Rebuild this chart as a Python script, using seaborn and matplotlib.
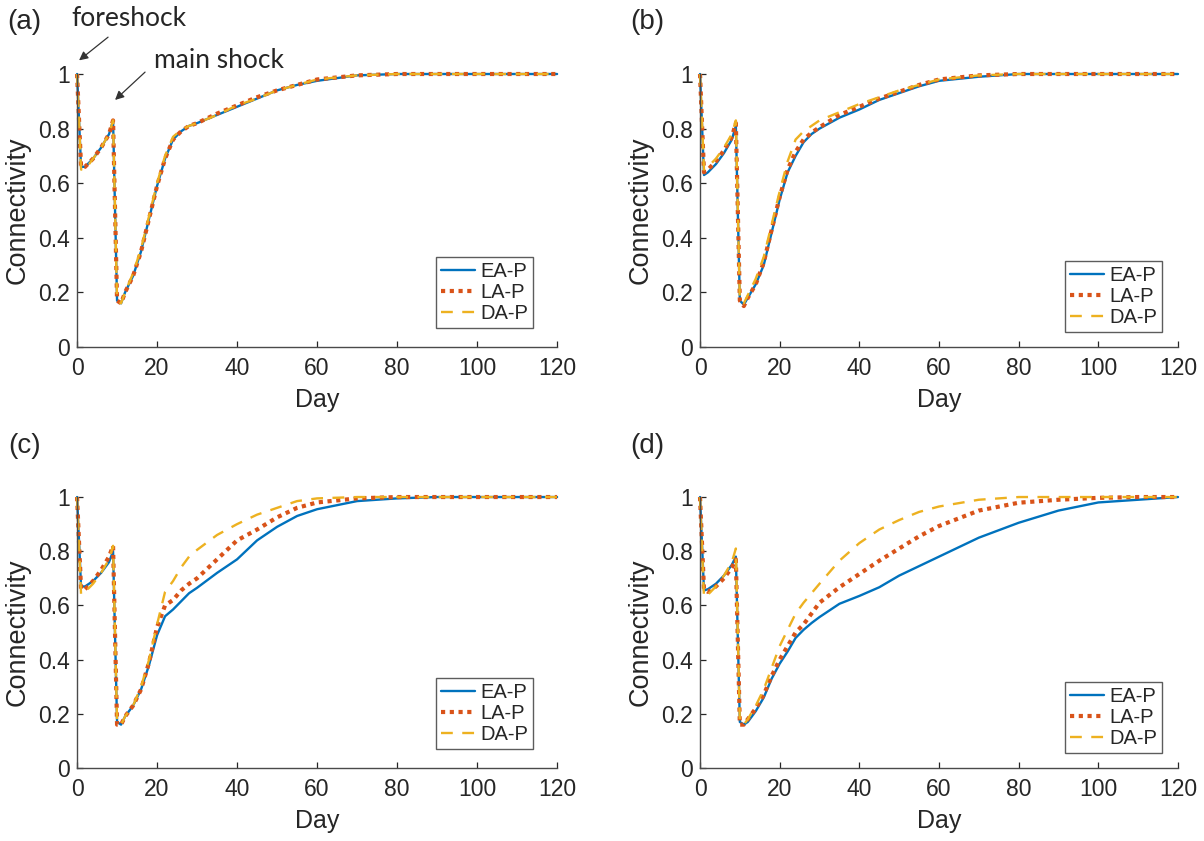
import matplotlib
matplotlib.use("Agg")
import matplotlib.pyplot as plt
import seaborn as sns

# sample days (shared by all panels)
days = [0, 1, 2, 4, 6, 8, 9, 10, 11, 12, 14, 16, 18, 20, 22, 24, 26, 28, 30,
        35, 40, 45, 50, 55, 60, 70, 80, 90, 100, 110, 120]

# (a)
a_ea = [1.00, 0.66, 0.66, 0.69, 0.73, 0.78, 0.83, 0.17, 0.16, 0.20, 0.26, 0.35, 0.47, 0.59, 0.69, 0.76,
        0.79, 0.81, 0.82, 0.85, 0.88, 0.91, 0.94, 0.96, 0.975, 0.995, 1.0, 1.0, 1.0, 1.0, 1.0]
a_la = [1.00, 0.66, 0.66, 0.69, 0.73, 0.78, 0.83, 0.17, 0.16, 0.20, 0.26, 0.35, 0.47, 0.59, 0.69, 0.76,
        0.79, 0.81, 0.82, 0.855, 0.885, 0.915, 0.94, 0.96, 0.98, 0.995, 1.0, 1.0, 1.0, 1.0, 1.0]
a_da = [1.00, 0.65, 0.65, 0.69, 0.73, 0.78, 0.83, 0.17, 0.16, 0.20, 0.27, 0.36, 0.48, 0.60, 0.70, 0.77,
        0.795, 0.81, 0.82, 0.85, 0.885, 0.91, 0.94, 0.96, 0.98, 0.995, 1.0, 1.0, 1.0, 1.0, 1.0]

# (b)
b_ea = [1.00, 0.63, 0.64, 0.67, 0.71, 0.76, 0.81, 0.17, 0.155, 0.18, 0.23, 0.30, 0.42, 0.54, 0.64, 0.70,
        0.75, 0.78, 0.80, 0.84, 0.87, 0.905, 0.93, 0.955, 0.975, 0.99, 1.0, 1.0, 1.0, 1.0, 1.0]
b_la = [1.00, 0.64, 0.65, 0.68, 0.72, 0.77, 0.82, 0.17, 0.15, 0.18, 0.23, 0.31, 0.43, 0.55, 0.65, 0.715,
        0.76, 0.785, 0.805, 0.85, 0.88, 0.91, 0.935, 0.96, 0.98, 0.995, 1.0, 1.0, 1.0, 1.0, 1.0]
b_da = [1.00, 0.65, 0.66, 0.69, 0.73, 0.78, 0.83, 0.17, 0.16, 0.19, 0.25, 0.33, 0.45, 0.57, 0.68, 0.76,
        0.79, 0.81, 0.83, 0.86, 0.89, 0.915, 0.94, 0.96, 0.98, 0.995, 1.0, 1.0, 1.0, 1.0, 1.0]

# (c)
c_ea = [1.00, 0.67, 0.67, 0.69, 0.72, 0.76, 0.80, 0.17, 0.16, 0.19, 0.23, 0.29, 0.38, 0.49, 0.56, 0.585,
        0.615, 0.645, 0.665, 0.72, 0.77, 0.84, 0.89, 0.93, 0.955, 0.985, 0.995, 1.0, 1.0, 1.0, 1.0]
c_la = [1.00, 0.66, 0.66, 0.69, 0.73, 0.78, 0.82, 0.16, 0.16, 0.19, 0.23, 0.29, 0.39, 0.52, 0.60, 0.62,
        0.655, 0.68, 0.70, 0.77, 0.84, 0.88, 0.925, 0.96, 0.98, 0.995, 1.0, 1.0, 1.0, 1.0, 1.0]
c_da = [1.00, 0.64, 0.65, 0.68, 0.72, 0.77, 0.82, 0.17, 0.16, 0.19, 0.23, 0.30, 0.40, 0.53, 0.65, 0.69,
        0.74, 0.78, 0.805, 0.86, 0.90, 0.935, 0.96, 0.985, 0.995, 1.0, 1.0, 1.0, 1.0, 1.0, 1.0]

# (d)
d_ea = [1.00, 0.655, 0.66, 0.68, 0.71, 0.75, 0.78, 0.17, 0.16, 0.17, 0.21, 0.26, 0.33, 0.385, 0.43, 0.48,
        0.51, 0.535, 0.557, 0.606, 0.635, 0.667, 0.71, 0.745, 0.78, 0.85, 0.905, 0.95, 0.98, 0.99, 1.0]
d_la = [1.00, 0.66, 0.65, 0.67, 0.70, 0.74, 0.77, 0.16, 0.16, 0.18, 0.22, 0.27, 0.34, 0.40, 0.45, 0.50,
        0.53, 0.57, 0.61, 0.667, 0.716, 0.765, 0.81, 0.855, 0.893, 0.95, 0.979, 0.99, 0.997, 1.0, 1.0]
d_da = [1.00, 0.63, 0.64, 0.67, 0.71, 0.76, 0.81, 0.17, 0.16, 0.18, 0.23, 0.29, 0.37, 0.45, 0.51, 0.57,
        0.61, 0.645, 0.68, 0.765, 0.83, 0.88, 0.915, 0.945, 0.965, 0.99, 1.0, 1.0, 1.0, 1.0, 1.0]

series_names = ["EA-P", "LA-P", "DA-P"]
panel_labels = ["(a)", "(b)", "(c)", "(d)"]
panels = [(a_ea, a_la, a_da), (b_ea, b_la, b_da), (c_ea, c_la, c_da), (d_ea, d_la, d_da)]
xticks = [0, 20, 40, 60, 80, 100, 120]
yticks = [0, 0.2, 0.4, 0.6, 0.8, 1]
ytick_labels = ["0", "0.2", "0.4", "0.6", "0.8", "1"]

colors = ["#0072BD", "#D95319", "#EDB120"]
styles = ["-", (0, (1, 1.1)), (0, (5, 4))]
widths = [1.7, 3.0, 1.7]

sns.set_style("ticks")
plt.rcParams["font.family"] = ["Liberation Sans", "DejaVu Sans"]
ink = "#262626"

fig = plt.figure(figsize=(12.04, 8.41), dpi=100)
rects = [[0.064, 0.5874, 0.3987, 0.3246], [0.5814, 0.5874, 0.3970, 0.3246],
         [0.064, 0.0868, 0.3987, 0.3222], [0.5814, 0.0868, 0.3970, 0.3222]]
leg_anchor = [(0.95, 0.07), (0.967, 0.055), (0.95, 0.07), (0.967, 0.055)]

axes = []
for i, (rect, data) in enumerate(zip(rects, panels)):
    ax = fig.add_axes(rect)
    axes.append(ax)
    for name, vals, c, ls, lw in zip(series_names, data, colors, styles, widths):
        sns.lineplot(x=days, y=vals, ax=ax, color=c, linestyle=ls, linewidth=lw,
                     label=name, clip_on=False)
    ax.set_xlim(0, 120)
    ax.set_ylim(0, 1)
    ax.set_xticks(xticks)
    ax.set_yticks(yticks)
    ax.set_yticklabels(ytick_labels)
    ax.tick_params(direction="in", length=4.5, width=0.9, colors=ink, labelsize=16.5)
    ax.tick_params(axis="x", pad=7)
    ax.tick_params(axis="y", pad=5)
    sns.despine(ax=ax)
    for s in ["left", "bottom"]:
        ax.spines[s].set_color("#4a4a4a")
        ax.spines[s].set_linewidth(1.0)
    ax.set_xlabel("Day", fontsize=18, color=ink)
    ax.set_ylabel("Connectivity", fontsize=19.5, color=ink)
    ax.yaxis.set_label_coords(-0.096, 0.5)
    ax.xaxis.set_label_coords(0.5, -0.150)
    leg = ax.legend(loc="lower right", bbox_to_anchor=leg_anchor[i],
                    fontsize=14.5, frameon=True, fancybox=False, handlelength=1.7,
                    labelspacing=0.1, borderpad=0.25, handletextpad=0.25, borderaxespad=0.0)
    leg.get_frame().set_edgecolor("#333333")
    leg.get_frame().set_linewidth(1.0)
    for t in leg.get_texts():
        t.set_color(ink)
    ax.text(-0.11, 1.19, panel_labels[i], transform=ax.transAxes, fontsize=20,
            ha="center", va="center", color=ink)

# annotations on (a)
ax = axes[0]
arrow = dict(arrowstyle="-|>", color="#333333", lw=0.9, mutation_scale=13, shrinkA=0, shrinkB=0)
ax.annotate("", xy=(0.5, 1.05), xytext=(7.75, 1.135), arrowprops=arrow, annotation_clip=False)
ax.annotate("", xy=(9.5, 0.905), xytext=(17, 1.007), arrowprops=arrow, annotation_clip=False)
ax.text(13, 1.205, "foreshock", fontsize=19, family=["Lato", "DejaVu Sans"],
        ha="center", va="center", color=ink)
ax.text(35.5, 1.05, "main shock", fontsize=19, family=["Lato", "DejaVu Sans"],
        ha="center", va="center", color=ink)

fig.savefig("out.png", dpi=100)
